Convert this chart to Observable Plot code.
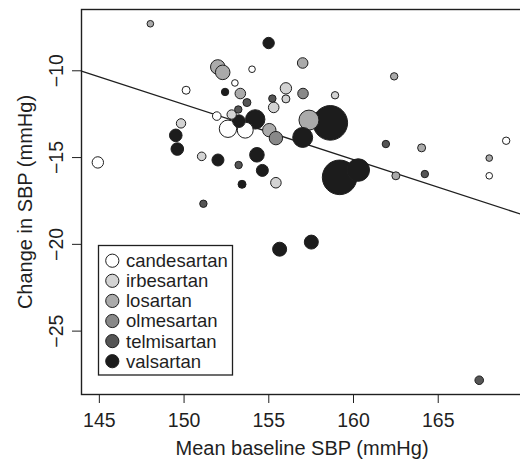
<!DOCTYPE html>
<html><head><meta charset="utf-8">
<script src="https://cdn.jsdelivr.net/npm/d3@7"></script>
<script src="https://cdn.jsdelivr.net/npm/@observablehq/plot@0.6"></script>
<style>
body{margin:0;background:#fff;overflow:hidden;}
#chart{position:relative;width:520px;height:460px;overflow:hidden;}
</style></head><body><div id="chart"></div>
<script>
// Drug classes and their fill shades
const drugs = ["candesartan","irbesartan","losartan","olmesartan","telmisartan","valsartan"];
const drugFill = ["#ffffff","#d3d3d3","#aaaaaa","#888888","#555555","#1c1c1c"];

// Studies per drug: mean baseline SBP, change in SBP, weight (bubble area)
const candesartanBaseline = [154.01,150.12,153.0,151.93,152.59,153.61,144.91,169.01,168.01];
const candesartanChange   = [-9.91,-11.12,-10.70,-12.61,-13.34,-13.42,-15.28,-14.03,-16.05];
const candesartanWeight   = [44,64,44,74,303,256,130,55,44];

const irbesartanBaseline = [152.81,156.01,156.01,155.29,149.82,151.04,155.42,158.91];
const irbesartanChange   = [-12.52,-11.01,-11.62,-12.11,-13.03,-14.93,-16.45,-11.41];
const irbesartanWeight   = [88,130,64,112,88,74,112,55];

const losartanBaseline = [151.99,152.28,153.32,155.03,157.0,157.37,164.02,162.5,168.01,162.4,148.01];
const losartanChange   = [-9.78,-10.09,-11.31,-13.42,-9.55,-12.84,-14.44,-16.05,-15.03,-10.32,-7.29];
const losartanWeight   = [213,213,112,180,112,400,64,64,44,55,44];

const olmesartanBaseline = [155.42,157.02];
const olmesartanChange   = [-13.88,-11.31];
const olmesartanWeight   = [180,112];

const telmisartanBaseline = [153.71,153.2,155.21,153.22,151.14,161.91,164.21,167.42];
const telmisartanChange   = [-11.83,-12.23,-11.6,-15.43,-17.66,-14.22,-15.95,-27.83];
const telmisartanWeight   = [64,55,55,55,55,55,55,74];

const valsartanBaseline = [154.99,152.42,153.24,154.2,149.51,149.6,152.0,154.3,154.62,153.42,155.64,157.51,158.63,157.0,160.28,159.18];
const valsartanChange   = [-8.40,-11.22,-12.90,-12.80,-13.72,-14.51,-15.14,-14.84,-15.74,-16.54,-20.28,-19.87,-13.0,-13.84,-15.72,-16.14];
const valsartanWeight   = [130,55,159,376,159,159,144,213,144,64,196,196,1200,400,511,1200];

// Meta-regression fit: change = intercept + slope * baseline
const fitIntercept = 35.76;
const fitSlope = -0.318;

const xTicks = [145,150,155,160,165];
const yTicks = [-10,-15,-20,-25];
const xTitle = "Mean baseline SBP (mmHg)";
const yTitle = "Change in SBP (mmHg)";

const groups = {
  candesartan: [candesartanBaseline, candesartanChange, candesartanWeight],
  irbesartan: [irbesartanBaseline, irbesartanChange, irbesartanWeight],
  losartan: [losartanBaseline, losartanChange, losartanWeight],
  olmesartan: [olmesartanBaseline, olmesartanChange, olmesartanWeight],
  telmisartan: [telmisartanBaseline, telmisartanChange, telmisartanWeight],
  valsartan: [valsartanBaseline, valsartanChange, valsartanWeight]
};
const studies = [];
for (const d of drugs) {
  const [bx, cy, w] = groups[d];
  bx.forEach((v, i) => studies.push({drug: d, baseline: v, change: cy[i], weight: w[i]}));
}
studies.sort((a, b) => b.weight - a.weight);

// R-style 4% padded domains
function pad(ext) { const r = ext[1] - ext[0]; return [ext[0] - 0.04 * r, ext[1] + 0.04 * r]; }
const xDomain = pad(d3.extent(studies, d => d.baseline));
const yDomain = pad(d3.extent(studies, d => d.change));
const fitLine = xDomain.map(x => ({x, y: fitIntercept + fitSlope * x}));
const minus = v => String(v).replace("-", "\u2212");

const font = "'Liberation Sans', Arial, Helvetica, sans-serif";
const ink = "#1f1f1f";

const chart = Plot.plot({
  width: 520,
  height: 460,
  marginLeft: 81,
  marginRight: -2,
  marginTop: 9,
  marginBottom: 66,
  style: {fontFamily: font, background: "#fff", color: ink, overflow: "visible"},
  x: {domain: xDomain, label: null},
  y: {domain: yDomain, label: null},
  r: {domain: [0, 1200], range: [0, 17.3]},
  color: {domain: drugs, range: drugFill},
  marks: [
    Plot.axisX({ticks: xTicks, tickSize: 9, tickFormat: () => "", label: null, stroke: ink}),
    Plot.axisY({ticks: yTicks, tickSize: 9, tickFormat: () => "", label: null, stroke: ink}),
    Plot.text(xTicks, {x: d => d, frameAnchor: "bottom", dy: 26, text: d => String(d), fontSize: 19.5, fill: ink, textAnchor: "middle", lineAnchor: "middle"}),
    Plot.text(yTicks, {y: d => d, frameAnchor: "left", dx: -25, rotate: -90, text: minus, fontSize: 19.5, fill: ink, textAnchor: "middle", lineAnchor: "middle"}),
    Plot.text([xTitle], {frameAnchor: "bottom", dy: 54, text: d => d, fontSize: 20, fill: ink, textAnchor: "middle", lineAnchor: "middle"}),
    Plot.text([yTitle], {frameAnchor: "left", dx: -56, rotate: -90, text: d => d, fontSize: 20, fill: ink, textAnchor: "middle", lineAnchor: "middle"}),
    Plot.line(fitLine, {x: "x", y: "y", stroke: ink, strokeWidth: 1.3}),
    Plot.dot(studies, {x: "baseline", y: "change", r: "weight", fill: "drug", stroke: ink, strokeWidth: 1}),
    Plot.frame({stroke: ink, strokeWidth: 1.4})
  ]
});
document.getElementById("chart").appendChild(chart);

// In-plot legend box (bottom-left of panel)
const svg = d3.select(chart);
const lg = svg.append("g").attr("font-family", font).attr("text-anchor", "start");
const lx = 98.5, ly = 245.5, lw = 134, lh = 129.5, step = 20.1;
lg.append("rect").attr("x", lx).attr("y", ly).attr("width", lw).attr("height", lh)
  .attr("fill", "#fff").attr("stroke", ink).attr("stroke-width", 1.3);
drugs.forEach((d, i) => {
  const cy = ly + 15.2 + i * step;
  lg.append("circle").attr("cx", lx + 13.8).attr("cy", cy).attr("r", 6.6)
    .attr("fill", drugFill[i]).attr("stroke", ink).attr("stroke-width", 1);
  lg.append("text").attr("x", lx + 27.5).attr("y", cy).attr("dy", "0.35em")
    .attr("text-anchor", "start").attr("font-size", 18.5).attr("fill", ink).text(d);
});
</script>
</body></html>
